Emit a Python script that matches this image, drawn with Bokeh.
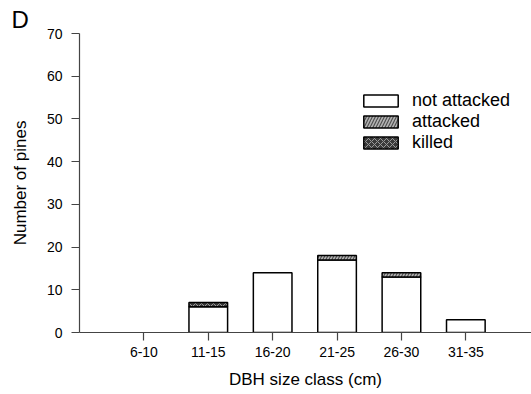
import numpy as np
from bokeh.plotting import figure
from bokeh.models import ColumnDataSource, FixedTicker, Legend, LegendItem, Range1d
from bokeh.embed import file_html
from bokeh.resources import INLINE

# ---- data ----
classes = ["6-10", "11-15", "16-20", "21-25", "26-30", "31-35"]
not_attacked = [0, 6, 14, 17, 13, 3]
attacked = [0, 0, 0, 1, 1, 0]
killed = [0, 1, 0, 0, 0, 0]
y_ticks = [0, 10, 20, 30, 40, 50, 60, 70]

FONT = "Liberation Sans"

pos = np.arange(1, len(classes) + 1)

p = figure(width=531, height=394, output_backend="svg", toolbar_location=None,
           x_range=Range1d(0, 7.02), y_range=Range1d(0, 70),
           min_border_left=79, min_border_right=0, min_border_top=33,
           min_border_bottom=62)
p.xgrid.visible = False
p.ygrid.visible = False
p.outline_line_color = None
p.background_fill_color = "white"
p.border_fill_color = "white"

p.title.text = "D"
p.title.text_font = FONT
p.title.text_font_size = "24px"
p.title.text_font_style = "normal"
p.title.text_color = "black"
p.title.align = "left"
p.title.offset = -68
p.title.standoff = 1

series = [
    ("not attacked", not_attacked, dict(fill_color="white", hatch_pattern=None)),
    ("attacked", attacked, dict(fill_color="#b4b4b4", hatch_pattern="right_diagonal_line",
                                hatch_color="#505050", hatch_scale=6, hatch_weight=1.2)),
    ("killed", killed, dict(fill_color="#3a3a3a", hatch_pattern="diagonal_cross",
                            hatch_color="#9a9a9a", hatch_scale=6, hatch_weight=1.0)),
]

bottom = np.zeros(len(classes))
items = []
for name, vals, style in series:
    vals = np.array(vals, dtype=float)
    top = bottom + vals
    mask = vals > 0
    src = ColumnDataSource(dict(x=pos[mask], bottom=bottom[mask], top=top[mask]))
    kw = dict(style)
    if kw.get("hatch_pattern") is None:
        kw.pop("hatch_pattern")
    r = p.vbar(x="x", bottom="bottom", top="top", width=0.6, source=src,
               line_color="black", line_width=1.5, **kw)
    items.append(LegendItem(label=name, renderers=[r]))
    bottom = top

legend = Legend(items=items, location=(280, 179), margin=0, padding=0,
                border_line_color=None, background_fill_alpha=0,
                glyph_width=43, glyph_height=15, label_height=15, spacing=0,
                label_standoff=10, label_text_font_size="18px",
                label_text_font=FONT, label_text_color="black")
p.add_layout(legend)

# axes
p.xaxis.ticker = FixedTicker(ticks=[float(v) for v in pos])
p.xaxis.major_label_overrides = {int(v): c for v, c in zip(pos, classes)}
p.yaxis.ticker = FixedTicker(ticks=y_ticks)
for ax in (p.xaxis[0], p.yaxis[0]):
    ax.axis_line_color = "#444444"
    ax.axis_line_width = 1.2
    ax.major_tick_line_color = "#444444"
    ax.major_tick_line_width = 1.2
    ax.major_tick_in = 0
    ax.major_tick_out = 8
    ax.minor_tick_line_color = None
    ax.major_label_text_font = FONT
    ax.major_label_text_font_size = "14px"
    ax.major_label_text_color = "black"
    ax.axis_label_text_font = FONT
    ax.axis_label_text_font_size = "17px"
    ax.axis_label_text_font_style = "normal"
    ax.axis_label_text_color = "black"

p.xaxis.axis_label = "DBH size class (cm)"
p.yaxis.axis_label = "Number of pines"
p.xaxis.major_label_standoff = 6
p.yaxis.major_label_standoff = 9
p.xaxis.axis_label_standoff = 10
p.yaxis.axis_label_standoff = 14

open("out.html", "w").write(file_html(p, INLINE))
